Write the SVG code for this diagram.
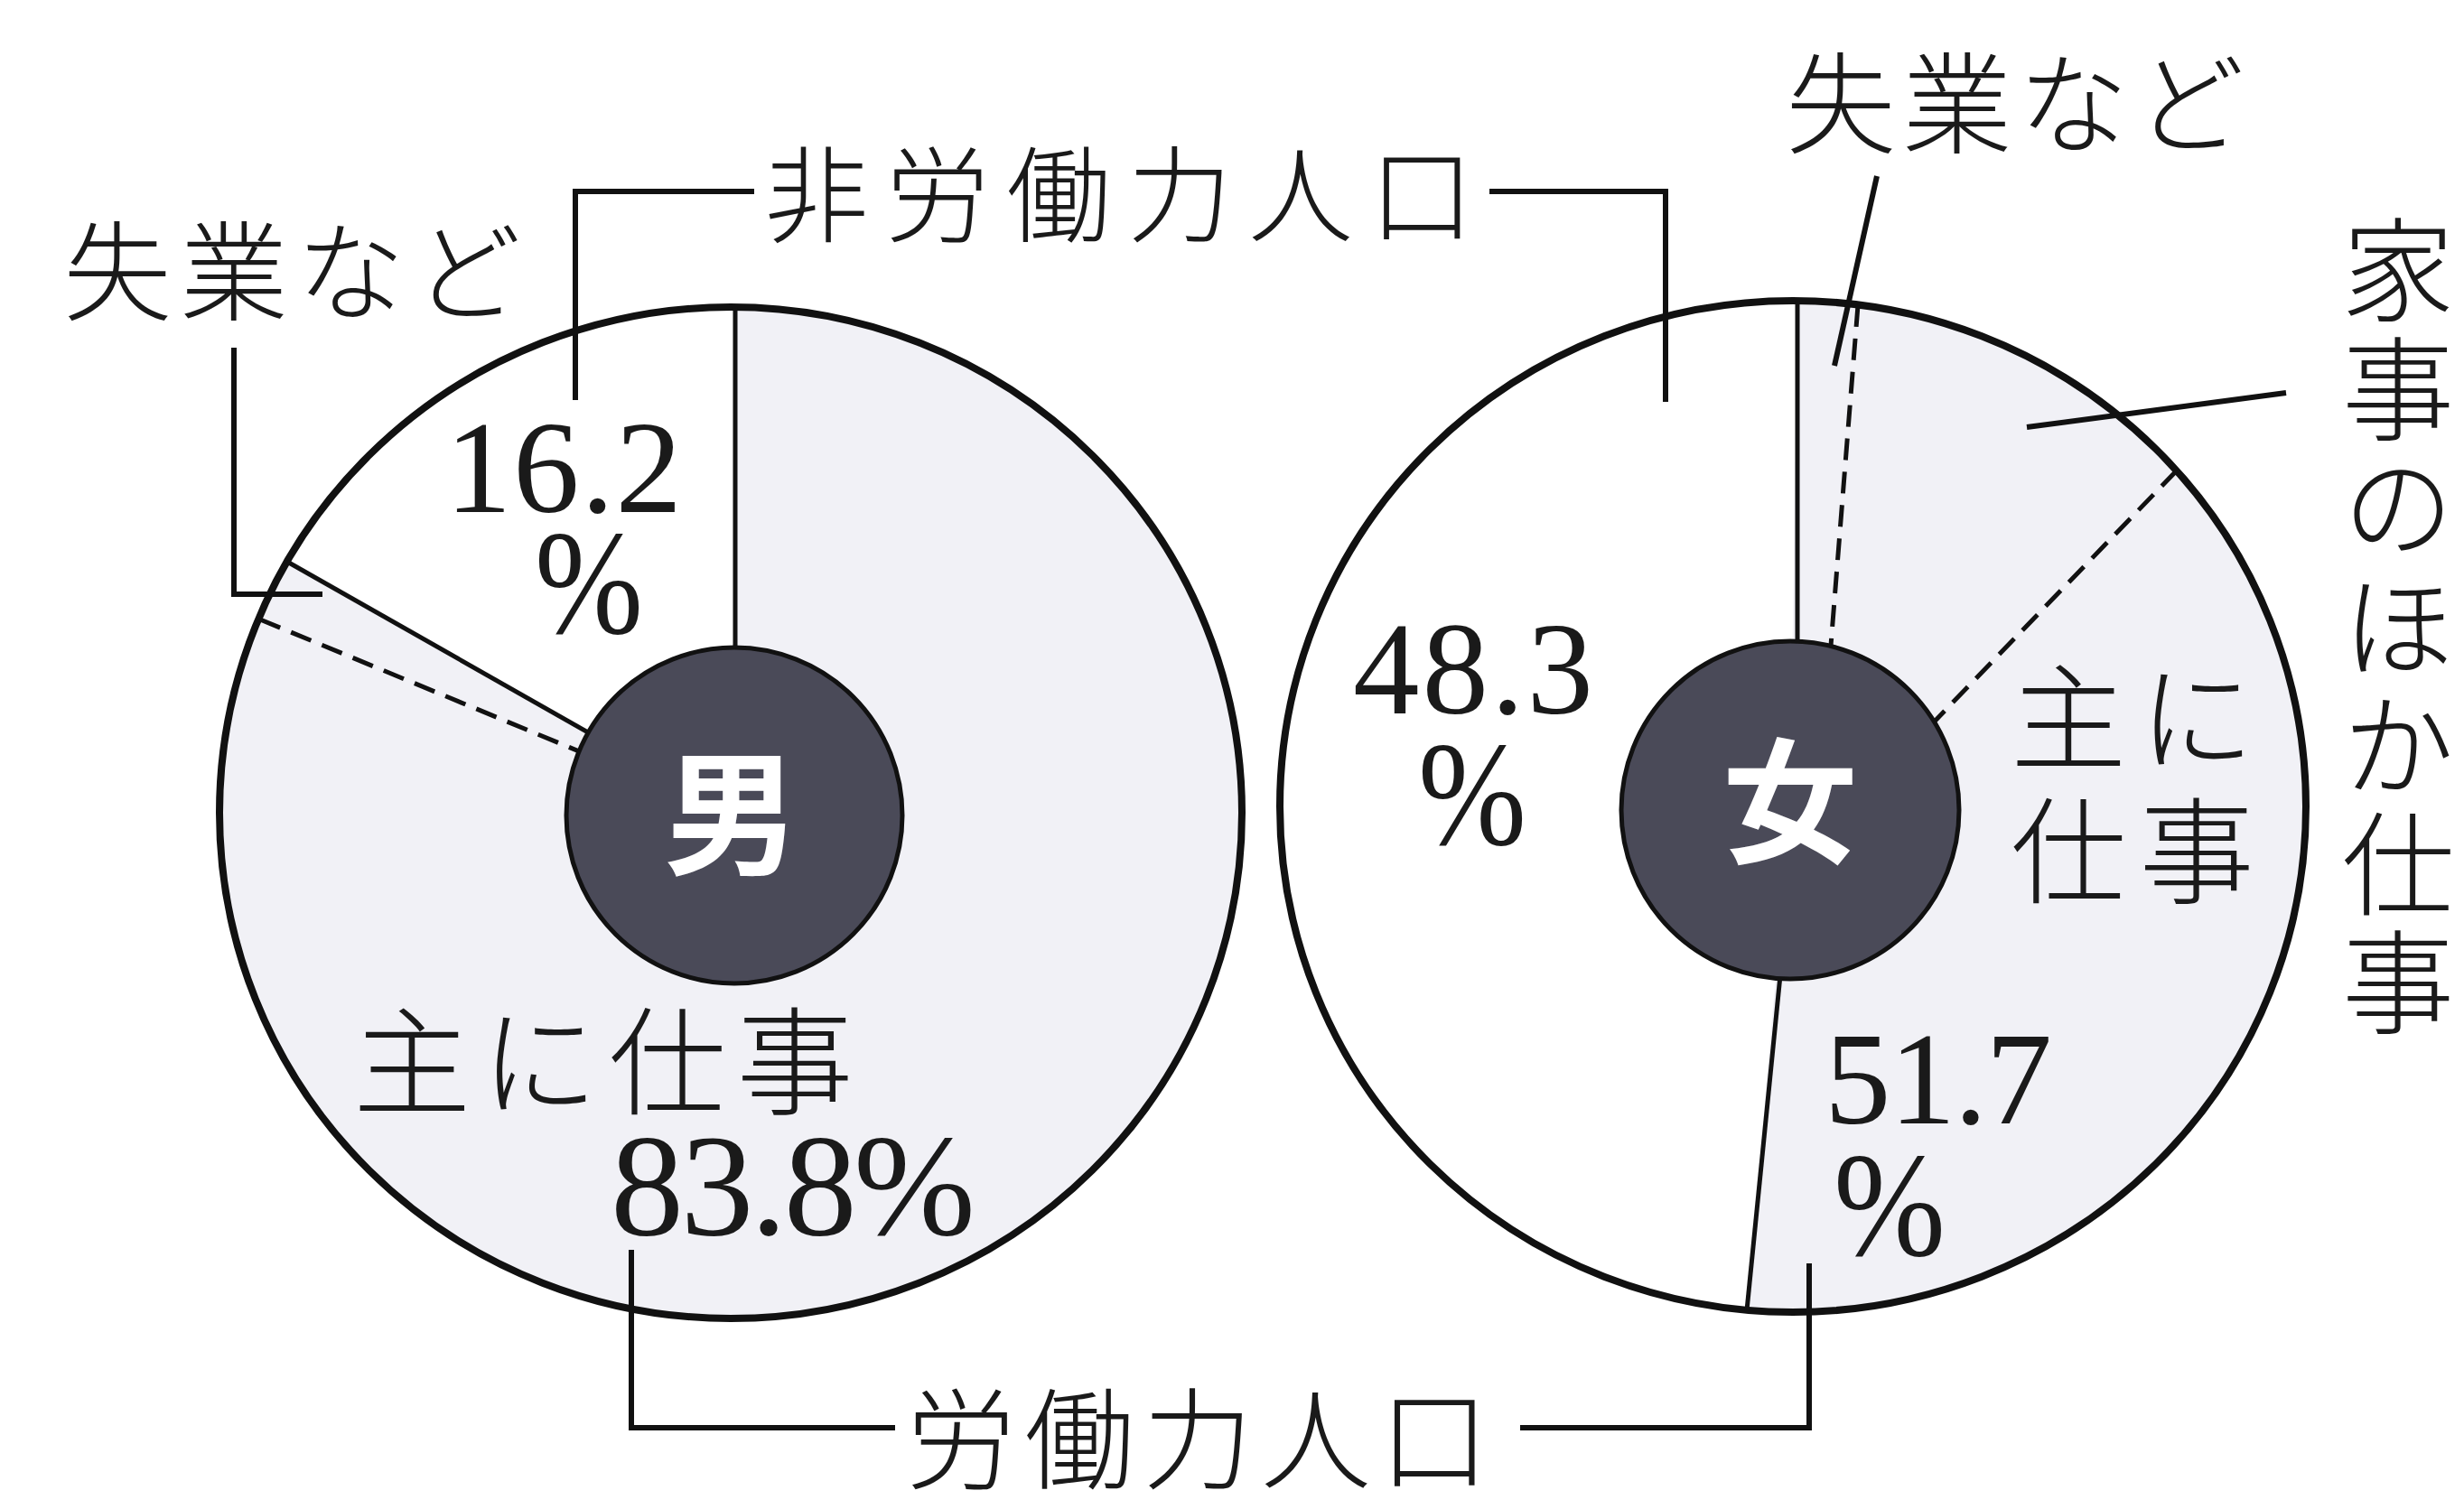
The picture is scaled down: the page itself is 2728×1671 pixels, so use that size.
<svg xmlns="http://www.w3.org/2000/svg" width="2728" height="1671" viewBox="0 0 2728 1671">
<style>
.outline{fill:none;stroke:#111;stroke-width:8}
.labor{fill:#f1f1f6}
.nonlabor{fill:#ffffff}
.div{stroke:#111;stroke-width:5;fill:none}
.dash{stroke:#111;stroke-width:5;fill:none;stroke-dasharray:24 13}
.core{fill:#4a4a58;stroke:#111;stroke-width:5}
.jp{font-family:"Noto Sans CJK JP","Noto Sans CJK SC",sans-serif;font-weight:300;fill:#1a1a1a}
.vt{font-family:"Noto Sans CJK JP","Noto Sans CJK SC",sans-serif;font-weight:300;fill:#1a1a1a;font-size:125px;writing-mode:vertical-rl;letter-spacing:6.5px}
.num{font-family:"Liberation Serif",serif;fill:#1a1a1a}
.core-label{font-family:"Noto Sans CJK JP","Noto Sans CJK SC",sans-serif;font-weight:700;fill:#ffffff}
.conn{stroke:#111;stroke-width:6;fill:none}
</style>
<rect x="0" y="0" width="2728" height="1671" fill="#ffffff"/>

<g id="pie-male">
  <ellipse class="labor" cx="809" cy="900" rx="566" ry="560"/>
  <path class="nonlabor" d="M813,903 L814,340 A566,560 0 0 0 317.7,621.9 Z"/>
  <ellipse class="outline" cx="809" cy="900" rx="566" ry="560"/>
  <line class="div" x1="814" y1="340" x2="814" y2="903"/>
  <line class="div" x1="318" y1="622" x2="813" y2="903"/>
  <line class="dash" x1="288" y1="686" x2="813" y2="903"/>
  <circle class="core" cx="813" cy="903" r="186"/>
  <text class="core-label" x="810" y="957" font-size="150" text-anchor="middle">男</text>
</g>

<g id="pie-female">
  <ellipse class="labor" cx="1985" cy="893" rx="568" ry="560"/>
  <path class="nonlabor" d="M1982,897 L1990,333 A568,560 0 0 0 1934,1451 Z"/>
  <ellipse class="outline" cx="1985" cy="893" rx="568" ry="560"/>
  <line class="div" x1="1990" y1="333" x2="1990" y2="897"/>
  <line class="div" x1="1934" y1="1451" x2="1975" y2="1040"/>
  <line class="dash" x1="2057" y1="338" x2="2025" y2="740"/>
  <line class="dash" x1="2410" y1="521" x2="2130" y2="811"/>
  <circle class="core" cx="1982" cy="897" r="187"/>
  <text class="core-label" x="1982" y="944" font-size="150" text-anchor="middle">女</text>
</g>

<g id="connectors">
  <polyline class="conn" points="637,443 637,212 835,212"/>
  <polyline class="conn" points="1649,212 1844,212 1844,445"/>
  <polyline class="conn" points="259,385 259,658 357,658"/>
  <line class="conn" x1="2078" y1="195" x2="2031" y2="405"/>
  <line class="conn" x1="2244" y1="473" x2="2531" y2="435"/>
  <polyline class="conn" points="699,1384 699,1581 991,1581"/>
  <polyline class="conn" points="1683,1581 2003,1581 2003,1399"/>
</g>

<g id="label-nonlabor">
  <text class="jp" x="846" y="259" font-size="116" textLength="786" lengthAdjust="spacing">非労働力人口</text>
</g>
<g id="label-labor">
  <text class="jp" x="1003" y="1639" font-size="122" textLength="646" lengthAdjust="spacing">労働力人口</text>
</g>
<g id="label-male-unemployed">
  <text class="jp" x="70" y="346" font-size="120" textLength="507" lengthAdjust="spacing">失業など</text>
</g>
<g id="label-female-unemployed">
  <text class="jp" x="1977" y="160" font-size="122" textLength="508" lengthAdjust="spacing">失業など</text>
</g>
<g id="label-female-housework">
  <text class="vt" x="2655" y="236">家事のほか仕事</text>
</g>
<g id="label-male-values">
  <text class="num" x="493" y="567" font-size="147" textLength="262" lengthAdjust="spacing">16.2</text>
  <text class="num" x="592" y="701" font-size="165" textLength="120" lengthAdjust="spacingAndGlyphs">%</text>
  <text class="jp" x="391" y="1224" font-size="130" textLength="554" lengthAdjust="spacing">主に仕事</text>
  <text class="num" x="676" y="1367" font-size="162" textLength="404" lengthAdjust="spacing">83.8%</text>
</g>
<g id="label-female-values">
  <text class="num" x="1498" y="790" font-size="147" textLength="266" lengthAdjust="spacing">48.3</text>
  <text class="num" x="1570" y="935" font-size="165" textLength="120" lengthAdjust="spacingAndGlyphs">%</text>
  <text class="jp" x="2226" y="843" font-size="128" textLength="270" lengthAdjust="spacing">主に</text>
  <text class="jp" x="2226" y="991" font-size="128" textLength="270" lengthAdjust="spacing">仕事</text>
  <text class="num" x="2020" y="1244" font-size="147" textLength="252" lengthAdjust="spacing">51.7</text>
  <text class="num" x="2030" y="1390" font-size="165" textLength="124" lengthAdjust="spacingAndGlyphs">%</text>
</g>
</svg>
